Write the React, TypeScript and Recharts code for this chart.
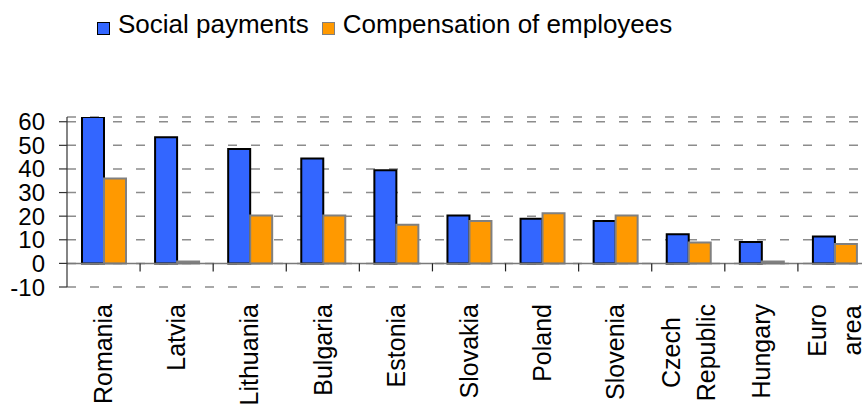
import { BarChart, Bar, XAxis, YAxis, CartesianGrid, ReferenceLine } from "recharts";

const countries = [
  "Romania",
  "Latvia",
  "Lithuania",
  "Bulgaria",
  "Estonia",
  "Slovakia",
  "Poland",
  "Slovenia",
  "Czech Republic",
  "Hungary",
  "Euro area",
];
const socialPayments = [62, 53.4, 48.5, 44.4, 39.4, 20.3, 18.9, 18, 12.3, 9.1, 11.4];
const compensation = [36, 0.8, 20.3, 20.3, 16.4, 18, 21.2, 20.3, 8.9, 0.8, 8.2];
const yTicks = [-10, 0, 10, 20, 30, 40, 50, 60];

const data = countries.map((name, i) => ({
  name,
  social: socialPayments[i],
  comp: compensation[i],
}));

const FONT = '"Liberation Sans", Arial, sans-serif';
const FS = 25;
const CHART_W = 880;
const CHART_H = 404;
const TOP = 117;
const XAXIS_H = 117;
const Y_MIN = -10;
const Y_MAX = 62;
const PLOT_H = CHART_H - TOP - XAXIS_H;
const PLOT_W = CHART_W - 67 - 9;
const ZERO_Y = TOP + ((Y_MAX - 0) / (Y_MAX - Y_MIN)) * PLOT_H;
const BAND = PLOT_W / countries.length;

let ctx: CanvasRenderingContext2D | null = null;
const textWidth = (s: string) => {
  if (!ctx) ctx = document.createElement("canvas").getContext("2d");
  if (!ctx) return s.length * FS * 0.55;
  ctx.font = `${FS}px ${FONT}`;
  return ctx.measureText(s).width;
};

// rotated country labels, multi-word ones wrapped and centred as a block,
// plus the small separator tick on the zero line
const CountryTick = ({ x, y, payload }: any) => {
  const lines: string[] = String(payload.value).split(" ");
  const maxW = Math.max(...lines.map(textWidth));
  const lineH = 35;
  const multi = lines.length > 1;
  return (
    <g>
      <line
        x1={x + BAND / 2}
        x2={x + BAND / 2}
        y1={ZERO_Y}
        y2={ZERO_Y + 8}
        stroke="#222"
        strokeWidth={1.2}
      />
      <g transform={`translate(${x},${y + 17}) rotate(-90)`}>
        <text
          fontFamily={FONT}
          fontSize={FS}
          fill="#000"
          textAnchor={multi ? "middle" : "end"}
        >
          {lines.map((l, i) => (
            <tspan
              key={l}
              x={multi ? -maxW / 2 : 0}
              y={FS * 0.35 + (i - (lines.length - 1) / 2) * lineH}
            >
              {l}
            </tspan>
          ))}
        </text>
      </g>
    </g>
  );
};

const LegendBox = ({ color, border }: { color: string; border: string }) => (
  <span
    style={{
      display: "inline-block",
      width: 11,
      height: 11,
      background: color,
      border: `1.5px solid ${border}`,
      marginRight: 8,
      verticalAlign: "baseline",
      position: "relative",
      top: 2,
    }}
  />
);

const App = () => {
  return (
    <div
      style={{
        position: "absolute",
        left: 0,
        top: 0,
        width: 862,
        height: 404,
        overflow: "hidden",
        background: "#fff",
      }}
    >
      <div
        style={{
          position: "absolute",
          left: 97,
          top: 9,
          fontFamily: FONT,
          fontSize: 26,
          color: "#000",
          whiteSpace: "nowrap",
          lineHeight: "30px",
        }}
      >
        <LegendBox color="#3366FF" border="#000" />
        <span style={{ marginRight: 13 }}>Social payments</span>
        <LegendBox color="#FF9900" border="#808080" />
        <span>Compensation of employees</span>
      </div>
      <BarChart
        width={CHART_W}
        height={CHART_H}
        data={data}
        margin={{ top: TOP, right: 9, left: 0, bottom: 0 }}
        barGap={0}
        barSize={22}
      >
        <CartesianGrid
          horizontal
          vertical={false}
          stroke="#8c8c8c"
          strokeWidth={1.5}
          strokeDasharray="9 14"
        />
        <XAxis
          dataKey="name"
          height={XAXIS_H}
          axisLine={false}
          tickLine={false}
          tickSize={0}
          tickMargin={0}
          interval={0}
          tick={<CountryTick />}
        />
        <YAxis
          width={67}
          domain={[Y_MIN, Y_MAX]}
          ticks={yTicks}
          allowDataOverflow
          interval={0}
          axisLine={{ stroke: "#333", strokeWidth: 1.2 }}
          tickLine={{ stroke: "#333", strokeWidth: 1.2 }}
          tickSize={8}
          tickMargin={14}
          tick={{ fontFamily: FONT, fontSize: 24, fill: "#000" }}
        />
        <ReferenceLine y={0} stroke="#7a7a7a" strokeWidth={1.5} />
        <Bar
          dataKey="social"
          fill="#3366FF"
          stroke="#000"
          strokeWidth={2}
          isAnimationActive={false}
        />
        <Bar
          dataKey="comp"
          fill="#FF9900"
          stroke="#808080"
          strokeWidth={2}
          isAnimationActive={false}
        />
      </BarChart>
    </div>
  );
};

export default App;
